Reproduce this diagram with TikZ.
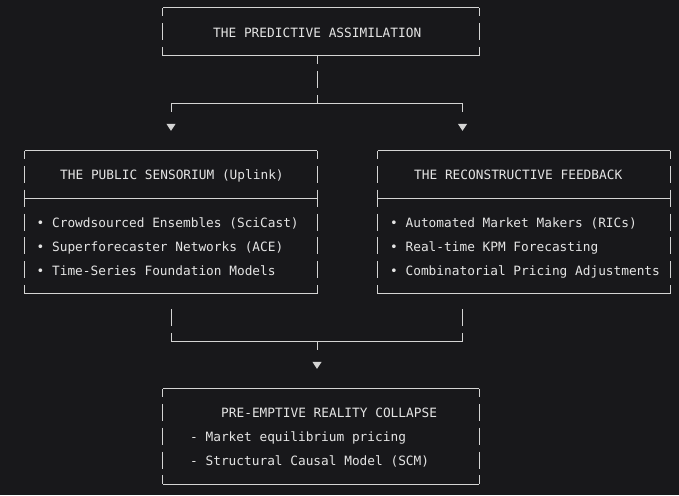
\documentclass[tikz,border=0pt]{standalone}
\usepackage{fontspec}
\setmonofont{DejaVu Sans Mono}
\usepackage{tikz}
\usetikzlibrary{arrows.meta,calc}
\definecolor{bg}{HTML}{18181B}
\definecolor{ink}{HTML}{D4D4D4}
\definecolor{txtink}{HTML}{E4E4E4}
\tikzset{
  hline/.style={draw=ink, line width=1pt},
  vbar/.style={hline, dash pattern=on 17pt off 6.8pt, dash phase=8.5pt},
  dropbar/.style={hline, dash pattern=on 0pt off 15.3pt on 17pt off 6.8pt on 8.5pt off 50pt},
  tipbar/.style={hline, dash pattern=on 8.5pt off 200pt, shorten >=19.8pt, -{Triangle[width=9pt,length=7pt]}},
  box/.style={rectangle, inner sep=0pt},
  txt/.style={text=txtink, inner sep=0pt, anchor=base west, font=\fontsize{12.8}{15}\selectfont\ttfamily}
}

\begin{document}
\begin{tikzpicture}[x=1pt, y=-1pt]

    \fill[bg] (0,0) rectangle (679,495);
    \useasboundingbox (0,0) rectangle (679,495);

    % the four boxes
    \node[box, minimum width=316pt, minimum height=47.6pt]  (top)  at (321,31.8)  {};
    \node[box, minimum width=292pt, minimum height=142.8pt] (sens) at (171,222.2) {};
    \node[box, minimum width=292pt, minimum height=142.8pt] (feed) at (524,222.2) {};
    \node[box, minimum width=316pt, minimum height=95.2pt]  (coll) at (321,436.4) {};

    \foreach \b in {top,sens,feed,coll} {
        \draw[hline] (\b.north west) -- (\b.north east) (\b.south west) -- (\b.south east);
        \draw[vbar] (\b.north west) -- (\b.south west);
        \draw[vbar] (\b.north east) -- (\b.south east);
    }
    \draw[hline] ($(sens.north west)+(0,47.6)$) -- ($(sens.north east)+(0,47.6)$);
    \draw[hline] ($(feed.north west)+(0,47.6)$) -- ($(feed.north east)+(0,47.6)$);

    % texts
    \node[txt] (topT)  at (213,37.1)  {THE PREDICTIVE ASSIMILATION};
    \node[txt] (sensT) at (60,179.9)  {THE PUBLIC SENSORIUM (Uplink)};
    \node[txt] (sens1) at (36.5,227.5) {• Crowdsourced Ensembles (SciCast)};
    \node[txt] (sens2) at (36.5,251.3) {• Superforecaster Networks (ACE)};
    \node[txt] (sens3) at (36.5,275.1) {• Time-Series Foundation Models};
    \node[txt] (feedT) at (414,179.9) {THE RECONSTRUCTIVE FEEDBACK};
    \node[txt] (feed1) at (390,227.5) {• Automated Market Makers (RICs)};
    \node[txt] (feed2) at (390,251.3) {• Real-time KPM Forecasting};
    \node[txt] (feed3) at (390,275.1) {• Combinatorial Pricing Adjustments};
    \node[txt] (collT) at (221,417.9) {PRE-EMPTIVE REALITY COLLAPSE};
    \node[txt] (coll1) at (190,441.7) {- Market equilibrium pricing};
    \node[txt] (coll2) at (190,465.5) {- Structural Causal Model (SCM)};

    % split and merge
    \coordinate (fork)   at (317,103.2);
    \coordinate (forkL)  at (171,103.2);
    \coordinate (forkR)  at (462.5,103.2);
    \coordinate (merge)  at (317,341.2);
    \coordinate (mergeL) at (171,341.2);
    \coordinate (mergeR) at (462.5,341.2);

    \draw[vbar] (fork |- top.south) -- (fork);
    \draw[hline] (forkL) -- (forkR);
    \draw[tipbar] (forkL) -- (forkL |- sens.north);
    \draw[tipbar] (forkR) -- (forkR |- feed.north);

    \draw[dropbar] (mergeL |- sens.south) -- (mergeL);
    \draw[dropbar] (mergeR |- feed.south) -- (mergeR);
    \draw[hline] (mergeL) -- (mergeR);
    \draw[tipbar] (merge) -- (merge |- coll.north);
\end{tikzpicture}
\end{document}
